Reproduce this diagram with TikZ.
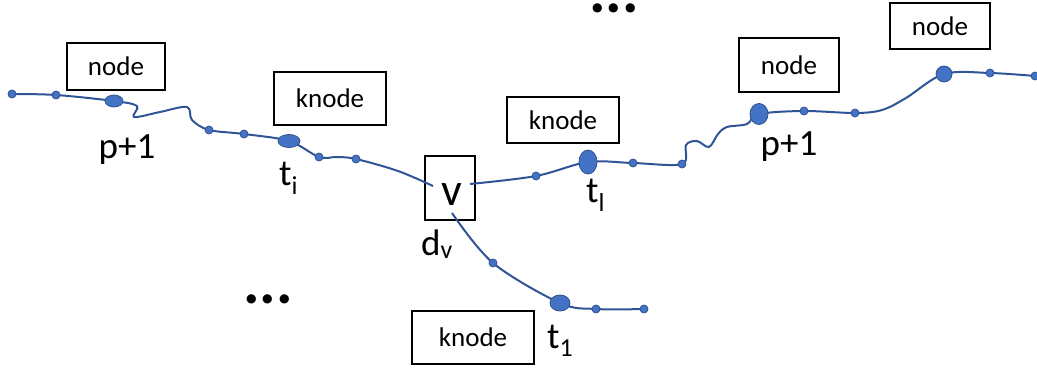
\documentclass[tikz,border=0pt]{standalone}
\usepackage{fontspec}
\setmainfont{Carlito}
\definecolor{linec}{HTML}{2F5597}
\definecolor{dotc}{HTML}{4472C4}
\definecolor{dotd}{HTML}{2F528F}
\begin{document}
\begin{tikzpicture}[x=1pt,y=-1pt,
  box/.style={draw=black,line width=1.2pt,inner sep=0pt,font=\fontsize{27}{30}\selectfont},
  lbl/.style={inner sep=0pt,font=\fontsize{37}{40}\selectfont},
  wire/.style={draw=linec,line width=2pt,smooth,tension=0.55},
  sdot/.style={fill=dotc,draw=dotd,line width=0.8pt},
  ell/.style={fill=dotc,draw=dotd,line width=0.8pt},
  dots/.style={inner sep=0pt,text height=11pt,text depth=0pt,anchor=base,font=\fontsize{62}{62}\selectfont\bfseries}]
\useasboundingbox (0,0) rectangle (1037,369);
% boxes
\node[box,minimum width=98pt,minimum height=47pt] (n1) at (116,66.5) {node};
\node[box,minimum width=112pt,minimum height=53pt] (k1) at (330,98.5) {knode};
\node[box,minimum width=50pt,minimum height=64pt] (v) at (450,188) {};
\node[inner sep=0pt,font=\fontsize{46}{46}\selectfont,anchor=base] (vt) at (452,205) {v};
\node[box,minimum width=112pt,minimum height=46pt] (k2) at (563,120) {knode};
\node[box,minimum width=100pt,minimum height=54pt] (n2) at (789,65) {node};
\node[box,minimum width=100pt,minimum height=46pt] (n3) at (940,26) {node};
\node[box,minimum width=122pt,minimum height=53pt] (k3) at (473,337.5) {knode};
% curve coordinates
\coordinate (a1) at (12,94);
\coordinate (a2) at (56,95);
\coordinate (a3) at (114,101);
\coordinate (a4) at (209,130);
\coordinate (a5) at (244,134);
\coordinate (a6) at (289,141);
\coordinate (a7) at (319,157);
\coordinate (a8) at (356,159);
\coordinate (ae) at (433,186);
\coordinate (b0) at (470,184);
\coordinate (b1) at (536,176);
\coordinate (b2) at (588,162);
\coordinate (b3) at (633,163);
\coordinate (b4) at (682,164);
\coordinate (b5) at (759,114);
\coordinate (b6) at (804,111);
\coordinate (b7) at (855,113);
\coordinate (b8) at (944,74);
\coordinate (b9) at (990,73);
\coordinate (b10) at (1035,76);
\coordinate (c0) at (452,213);
\coordinate (c1) at (493,263);
\coordinate (c2) at (560,303);
\coordinate (c3) at (596,309);
\coordinate (c4) at (644,309);
% curves
\draw[wire] plot coordinates {(a1) (a2) (a3) (137,106) (134,117) (160,112) (187,107) (192,120) (a4) (a5) (a6) (a7) (337,157) (a8) (398,171) (ae)};
\draw[wire] plot coordinates {(b0) (b1) (b2) (b3) (b4) (686,145) (697,141) (709,147) (718,134) (727,127) (747,124) (b5) (b6) (b7) (882,110) (906,98) (b8) (b9) (b10)};
\draw[wire] plot coordinates {(c0) (c1) (c2) (c3) (c4)};
% dots
\foreach \p in {a1,a2,a4,a5,a7,a8,b1,b3,b4,b6,b7,b9,b10,c1,c3,c4}
  \fill[sdot] (\p) circle (4pt);
\filldraw[ell] (a3) ellipse (9pt and 6pt);
\filldraw[ell] (a6) ellipse (11pt and 6.5pt);
\filldraw[ell] (b2) ellipse (9pt and 12pt);
\filldraw[ell] (b5) ellipse (9pt and 10.5pt);
\filldraw[ell] (b8) ellipse (8pt and 8pt);
\filldraw[ell] (c2) ellipse (10pt and 8pt);
% labels
\node[lbl,anchor=base] (p1) at (127,158) {p+1};
\node[lbl,anchor=base west] (ti) at (279,185) {t\textsubscript{i}};
\node[lbl,anchor=base west] (tl) at (586,202) {t\textsubscript{l}};
\node[lbl,anchor=base] (p2) at (789,155) {p+1};
\node[lbl,anchor=base west] (dv) at (421,255) {d\textsubscript{v}};
\node[lbl,anchor=base west] (t1) at (547,348) {t\textsubscript{1}};
\node[dots] (d1) at (268,303) {...};
\node[dots] (d2) at (614,12.5) {...};
\end{tikzpicture}
\end{document}
